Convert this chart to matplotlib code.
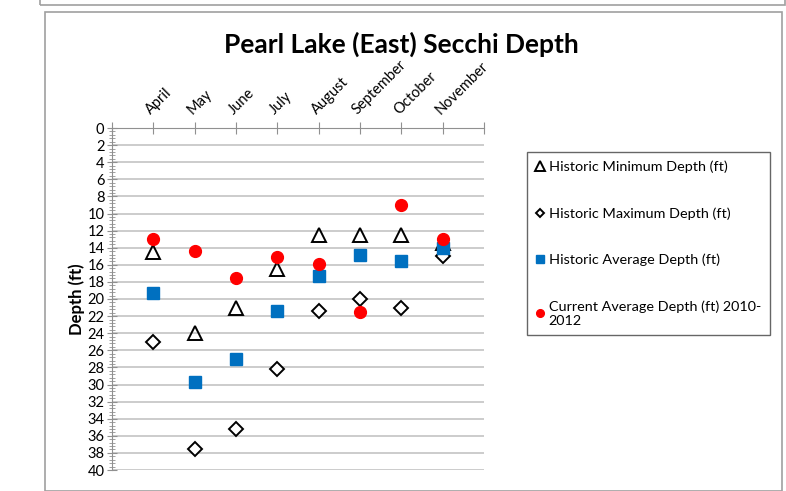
"""Pearl Lake (East) Secchi depth chart."""
import matplotlib
matplotlib.use("Agg")
from matplotlib import pyplot as plt
from matplotlib.patches import Rectangle
from matplotlib.ticker import MultipleLocator

months = ["April", "May", "June", "July", "August", "September", "October", "November"]
hist_min = [14.5, 24.0, 21.0, 16.5, 12.5, 12.5, 12.5, 13.5]
hist_max = [25.0, 37.5, 35.2, 28.2, 21.4, 20.0, 21.0, 15.0]
hist_avg = [19.3, 29.7, 27.0, 21.4, 17.3, 14.8, 15.5, 14.0]
current_avg = [13.0, 14.4, 17.5, 15.1, 15.9, 21.5, 9.0, 13.0]

plt.rcParams["font.family"] = ["Lato", "DejaVu Sans"]

fig = plt.figure(figsize=(7.86, 4.91), dpi=100)
fig.patches.append(Rectangle((45 / 786, 0), 737 / 786, 479 / 491, transform=fig.transFigure,
                             fill=False, edgecolor="#a0a0a0", linewidth=1.2))
fig.patches.append(Rectangle((40 / 786, 486 / 491), 745 / 786, 10 / 491, transform=fig.transFigure,
                             fill=False, edgecolor="#a0a0a0", linewidth=1.2))

ax = fig.add_axes([112 / 786, 21 / 491, 372 / 786, 342 / 491])
x = list(range(1, len(months) + 1))

ax.plot(x, hist_min, linestyle="none", marker="^", markersize=10, markerfacecolor="none",
        markeredgecolor="black", markeredgewidth=1.4, label="Historic Minimum Depth (ft)")
ax.plot(x, hist_max, linestyle="none", marker="D", markersize=7, markerfacecolor="white",
        markeredgecolor="black", markeredgewidth=1.4, label="Historic Maximum Depth (ft)")
ax.plot(x, hist_avg, linestyle="none", marker="s", markersize=8, color="#0070c0",
        label="Historic Average Depth (ft)")
ax.plot(x, current_avg, linestyle="none", marker="o", markersize=8.5, color="#ff0000",
        label="Current Average Depth (ft) 2010-\n2012")

ax.set_xlim(0, 9)
ax.set_ylim(40, 0)
ax.yaxis.set_major_locator(MultipleLocator(2))
ax.yaxis.set_minor_locator(MultipleLocator(0.4))
ax.grid(axis="y", color="#c8c8c8", linewidth=1.3)
ax.set_axisbelow(True)

ax.xaxis.tick_top()
ax.set_xticks(range(0, 10))
ax.set_xticklabels([""] + months + [""], rotation=45, ha="left", va="bottom",
                   rotation_mode="anchor", fontsize=10.5)
ax.tick_params(axis="x", direction="inout", length=8, color="#909090", pad=4)
ax.tick_params(axis="y", which="major", direction="inout", length=7, color="#909090",
               labelsize=10.5, pad=2)
ax.tick_params(axis="y", which="minor", direction="inout", length=4, color="#909090")

for side in ("right", "bottom"):
    ax.spines[side].set_visible(False)
for side in ("left", "top"):
    ax.spines[side].set_color("#909090")

ax.set_ylabel("Depth (ft)", fontsize=12, fontweight="bold", labelpad=2)

fig.text(401 / 786, 1 - 44 / 491, "Pearl Lake (East) Secchi Depth", ha="center", va="center",
         fontsize=19, fontweight="bold")

fig.legend(loc="upper left", bbox_to_anchor=(527 / 786, 1 - 152 / 491), fontsize=10.4,
           frameon=True, fancybox=False, edgecolor="#404040", labelspacing=2.35,
           handlelength=0.6, handletextpad=0.3, markerscale=0.65, borderpad=0.6,
           borderaxespad=0)

fig.savefig("out.png", dpi=100)
